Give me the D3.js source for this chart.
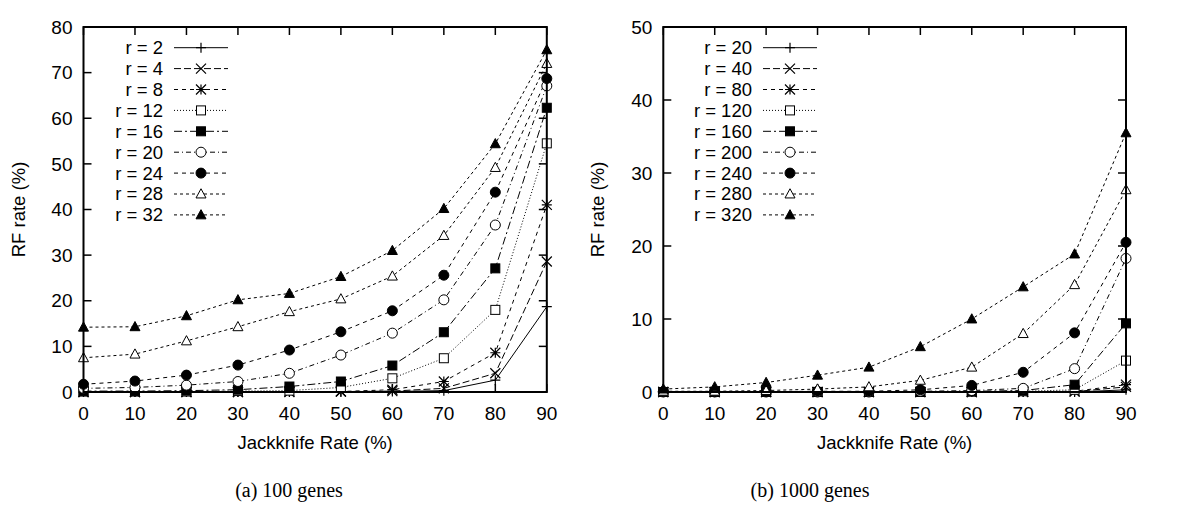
<!DOCTYPE html>
<html><head><meta charset="utf-8">
<script src="https://cdn.jsdelivr.net/npm/d3@7"></script>
<style>
body{margin:0;background:#fff;}
svg{display:block;}
text{font-family:"Liberation Sans",Arial,sans-serif;fill:#000;}
.cap{font-family:"Liberation Serif","Times New Roman",serif;}
</style></head>
<body>
<svg id="chart" width="1200" height="505"></svg>
<script>
// ---- data ----
const jackknife = [0,10,20,30,40,50,60,70,80,90];
const xTicks = [0,10,20,30,40,50,60,70,80,90];

const labelsA = ["r = 2","r = 4","r = 8","r = 12","r = 16","r = 20","r = 24","r = 28","r = 32"];
const a_r2  = [0,0,0,0,0,0,0.1,0.3,2.6,18.7];
const a_r4  = [0,0,0,0,0,0.1,0.2,0.8,4.1,28.6];
const a_r8  = [0,0,0,0,0.1,0.1,0.5,2.3,8.6,41.0];
const a_r12 = [0.1,0.1,0.1,0.2,0.3,1.0,3.0,7.4,18.0,54.5];
const a_r16 = [0.2,0.2,0.3,0.5,1.2,2.3,5.8,13.1,27.1,62.3];
const a_r20 = [0.8,1.0,1.5,2.3,4.1,8.1,12.9,20.2,36.6,67.1];
const a_r24 = [1.7,2.4,3.7,5.9,9.2,13.2,17.8,25.6,43.8,68.7];
const a_r28 = [7.5,8.3,11.2,14.3,17.6,20.4,25.4,34.3,49.2,72.0];
const a_r32 = [14.2,14.3,16.7,20.2,21.6,25.3,31.0,40.2,54.4,75.0];
const yTicksA = [0,10,20,30,40,50,60,70,80];

const labelsB = ["r = 20","r = 40","r = 80","r = 120","r = 160","r = 200","r = 240","r = 280","r = 320"];
const b_r20  = [0,0,0,0,0,0,0,0,0,0.3];
const b_r40  = [0,0,0,0,0,0,0,0,0.05,0.7];
const b_r80  = [0,0,0,0,0,0,0,0.05,0.1,1.0];
const b_r120 = [0,0,0,0,0,0,0.05,0.1,0.3,4.3];
const b_r160 = [0,0,0,0,0,0,0.1,0.2,1.0,9.4];
const b_r200 = [0,0,0,0,0,0.1,0.2,0.5,3.2,18.3];
const b_r240 = [0.05,0.05,0.05,0.1,0.1,0.3,0.9,2.7,8.1,20.5];
const b_r280 = [0.1,0.1,0.2,0.4,0.7,1.6,3.4,8.0,14.7,27.7];
const b_r320 = [0.4,0.7,1.3,2.3,3.4,6.2,10.0,14.4,18.9,35.5];
const yTicksB = [0,10,20,30,40,50];

const xTitle = "Jackknife Rate (%)";
const yTitle = "RF rate (%)";
const captions = ["(a) 100 genes","(b) 1000 genes"];

// ---- styles (per series index) ----
const dashes = [null,"7,3","4,4","1,2","8,3,2,3","5,3,1,3","4,4","3,3","3,3"];
const markers = ["plus","cross","star","sqOpen","sqFill","circOpen","circFill","triOpen","triFill"];

const svg = d3.select("#chart");

function drawMarker(g, type, x, y){
  const s = 5;
  if(type==="plus"){
    g.append("path").attr("d",`M${x-s},${y}H${x+s}M${x},${y-s}V${y+s}`).attr("stroke","#000").attr("stroke-width",1.2);
  } else if(type==="cross"){
    g.append("path").attr("d",`M${x-s},${y-s}L${x+s},${y+s}M${x-s},${y+s}L${x+s},${y-s}`).attr("stroke","#000").attr("stroke-width",1.2);
  } else if(type==="star"){
    g.append("path").attr("d",`M${x-s},${y-s}L${x+s},${y+s}M${x-s},${y+s}L${x+s},${y-s}M${x-s},${y}H${x+s}M${x},${y-s}V${y+s}`).attr("stroke","#000").attr("stroke-width",1.2);
  } else if(type==="sqOpen" || type==="sqFill"){
    g.append("rect").attr("x",x-s+0.5).attr("y",y-s+0.5).attr("width",2*s-1).attr("height",2*s-1)
      .attr("fill",type==="sqFill"?"#000":"#fff").attr("stroke","#000").attr("stroke-width",1);
  } else if(type==="circOpen" || type==="circFill"){
    g.append("circle").attr("cx",x).attr("cy",y).attr("r",s)
      .attr("fill",type==="circFill"?"#000":"#fff").attr("stroke","#000").attr("stroke-width",1);
  } else {
    const h=s*1.05;
    g.append("path").attr("d",`M${x},${y-h}L${x+s},${y+h*0.75}L${x-s},${y+h*0.75}Z`)
      .attr("fill",type==="triFill"?"#000":"#fff").attr("stroke","#000").attr("stroke-width",1);
  }
}

function panel(opt){
  const x = d3.scaleLinear().domain([0,90]).range([opt.left,opt.right]);
  const y = d3.scaleLinear().domain([0,opt.ymax]).range([opt.bottom,opt.top]);
  const g = svg.append("g");
  const tl = 8;
  const tk = g.append("g").attr("stroke","#000").attr("stroke-width",1.5);
  opt.xticks.forEach(v=>{
    tk.append("line").attr("x1",x(v)).attr("x2",x(v)).attr("y1",opt.bottom).attr("y2",opt.bottom-tl);
    tk.append("line").attr("x1",x(v)).attr("x2",x(v)).attr("y1",opt.top).attr("y2",opt.top+tl);
    g.append("text").attr("x",x(v)).attr("y",420).attr("text-anchor","middle").attr("font-size",19).text(v);
  });
  opt.yticks.forEach(v=>{
    tk.append("line").attr("x1",opt.left).attr("x2",opt.left+tl).attr("y1",y(v)).attr("y2",y(v));
    tk.append("line").attr("x1",opt.right).attr("x2",opt.right-tl).attr("y1",y(v)).attr("y2",y(v));
    g.append("text").attr("x",opt.left-11).attr("y",y(v)).attr("dy","0.35em").attr("text-anchor","end").attr("font-size",19).text(v);
  });
  const line = d3.line().x((d,i)=>x(jackknife[i])).y(d=>y(d));
  opt.series.forEach((s,k)=>{
    g.append("path").datum(s).attr("d",line).attr("fill","none").attr("stroke","#000")
      .attr("stroke-width",1).attr("stroke-dasharray",dashes[k]);
  });
  opt.series.forEach((s,k)=>{
    s.forEach((v,i)=>drawMarker(g,markers[k],x(jackknife[i]),y(v)));
  });
  g.append("rect").attr("x",opt.left).attr("y",opt.top).attr("width",opt.right-opt.left)
    .attr("height",opt.bottom-opt.top).attr("fill","none").attr("stroke","#000").attr("stroke-width",2);
  opt.labels.forEach((lab,k)=>{
    const ly = 47.7 + k*20.9;
    g.append("text").attr("x",opt.legX).attr("y",ly).attr("dy","0.35em").attr("text-anchor","end").attr("font-size",18.5).text(lab);
    g.append("line").attr("x1",opt.legX+11).attr("x2",opt.legX+65).attr("y1",ly).attr("y2",ly)
      .attr("stroke","#000").attr("stroke-width",1).attr("stroke-dasharray",dashes[k]);
    drawMarker(g,markers[k],opt.legX+38,ly);
  });
  const cx = (opt.left+opt.right)/2;
  g.append("text").attr("x",cx).attr("y",449).attr("text-anchor","middle").attr("font-size",18.5).text(xTitle);
  g.append("text").attr("transform",`translate(${opt.yTitleX},${(opt.top+opt.bottom)/2}) rotate(-90)`)
    .attr("text-anchor","middle").attr("font-size",18.5).text(yTitle);
  g.append("text").attr("class","cap").attr("x",opt.capX).attr("y",497).attr("text-anchor","middle").attr("font-size",20).text(opt.caption);
}

panel({left:83.5,right:546.8,top:27,bottom:392,ymax:80,xticks:xTicks,yticks:yTicksA,
  series:[a_r2,a_r4,a_r8,a_r12,a_r16,a_r20,a_r24,a_r28,a_r32],labels:labelsA,legX:163,
  yTitleX:25,capX:289,caption:captions[0]});
panel({left:663.3,right:1126,top:27,bottom:392,ymax:50,xticks:xTicks,yticks:yTicksB,
  series:[b_r20,b_r40,b_r80,b_r120,b_r160,b_r200,b_r240,b_r280,b_r320],labels:labelsB,legX:752,
  yTitleX:604,capX:810,caption:captions[1]});
</script>
</body></html>
